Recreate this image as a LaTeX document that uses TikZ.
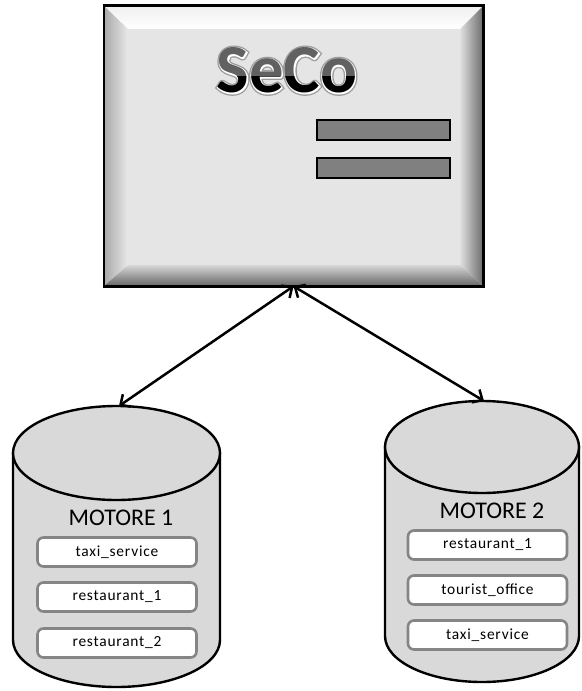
\documentclass[tikz,border=0pt]{standalone}
\usepackage{fontspec}
\setmainfont{Carlito}
\newfontfamily\secofont{Carlito Bold}
\newfontfamily\secohalofont{Carlito Bold}[FakeBold=7]
\newfontfamily\secorimfont{Carlito Bold}[FakeBold=3]
\newfontfamily\itemfont{Carlito}[LetterSpace=5]
\usetikzlibrary{arrows.meta}

\tikzset{
  edgeline/.style={draw=black, line width=2.6bp},
  dbbody/.style={fill=black!15, draw=black, line width=2.4bp},
  itembox/.style={draw=black!48, fill=white, line width=2.6bp, rounded corners=6bp,
    minimum width=159bp, minimum height=29bp, inner sep=0pt,
    font=\itemfont\fontsize{15.5}{15.5}\selectfont},
  dblabel/.style={anchor=base, inner sep=0pt, font=\fontsize{24}{24}\selectfont},
  panelbar/.style={fill=black!50, draw=black, line width=2.4bp},
  conn/.style={line width=2.5bp,
    {Straight Barb[length=8bp,width=15bp]}-{Straight Barb[length=8bp,width=15bp]}},
  titletext/.style={anchor=base, inner sep=0pt},
}
\newcommand{\secosize}{\fontsize{69}{69}\selectfont}

\begin{document}
\begin{tikzpicture}[x=1bp, y=-1bp]
\useasboundingbox (0,0) rectangle (582,691);

% ---------- SeCo server panel (bevelled box) ----------
\node[minimum width=379bp, minimum height=280bp, inner sep=0pt] (seco) at (293.5,146) {};
\fill[black!10] (128,29) rectangle (460,265);
\shade[top color=black!6, bottom color=white]
  (104,6) -- (483,6) -- (460,29) -- (128,29) -- cycle;
\shade[left color=black!34, right color=black!9]
  (104,6) -- (128,29) -- (128,265) -- (104,286) -- cycle;
\shade[left color=black!12, right color=black!58]
  (483,6) -- (460,29) -- (460,265) -- (483,286) -- cycle;
\shade[top color=black!16, bottom color=black!60]
  (104,286) -- (128,265) -- (460,265) -- (483,286) -- cycle;
\draw[edgeline] (seco.north west) rectangle (seco.south east);

% title: grey halo, white rim, then a two-tone fill
\node[titletext, text=black!38] (titlehalo) at (287,93) {\secohalofont\secosize SeCo};
\node[titletext, text=white] (titlerim) at (287,93) {\secorimfont\secosize SeCo};
\begin{scope}
  \clip (150,20) rectangle (420,77);
  \node[titletext, text=black!62] (titletop) at (287,93) {\secofont\secosize SeCo};
\end{scope}
\begin{scope}
  \clip (150,77) rectangle (420,110);
  \node[titletext, text=black] (titlebottom) at (287,93) {\secofont\secosize SeCo};
\end{scope}

% indicator bars
\draw[panelbar] (317,120) rectangle (450,140);
\draw[panelbar] (317,158) rectangle (450,178);

% ---------- database MOTORE 1 ----------
\path[dbbody] (13,453) -- (13,640)
  arc[start angle=180, end angle=360, x radius=103.5bp, y radius=47bp]
  -- (220,453) -- cycle;
\draw[dbbody] (116.5,453) ellipse[x radius=103.5bp, y radius=47bp];
\coordinate (db1top) at (119,406);
\node[dblabel] (m1label) at (121,525) {MOTORE 1};
\node[itembox] (m1a) at (117,552) {taxi\_service};
\node[itembox] (m1b) at (117,597) {restaurant\_1};
\node[itembox] (m1c) at (117,643) {restaurant\_2};

% ---------- database MOTORE 2 ----------
\path[dbbody] (385,447) -- (385,636)
  arc[start angle=180, end angle=360, x radius=97bp, y radius=46bp]
  -- (579,447) -- cycle;
\draw[dbbody] (482,447) ellipse[x radius=97bp, y radius=46bp];
\coordinate (db2top) at (484,401);
\node[dblabel] (m2label) at (492,518) {MOTORE 2};
\node[itembox] (m2a) at (487.5,545) {restaurant\_1};
\node[itembox] (m2b) at (487.5,590) {tourist\_office};
\node[itembox] (m2c) at (487.5,635) {taxi\_service};

% ---------- connections ----------
\draw[conn] (db1top) -- (seco.south);
\draw[conn] (db2top) -- (seco.south);
\end{tikzpicture}
\end{document}
